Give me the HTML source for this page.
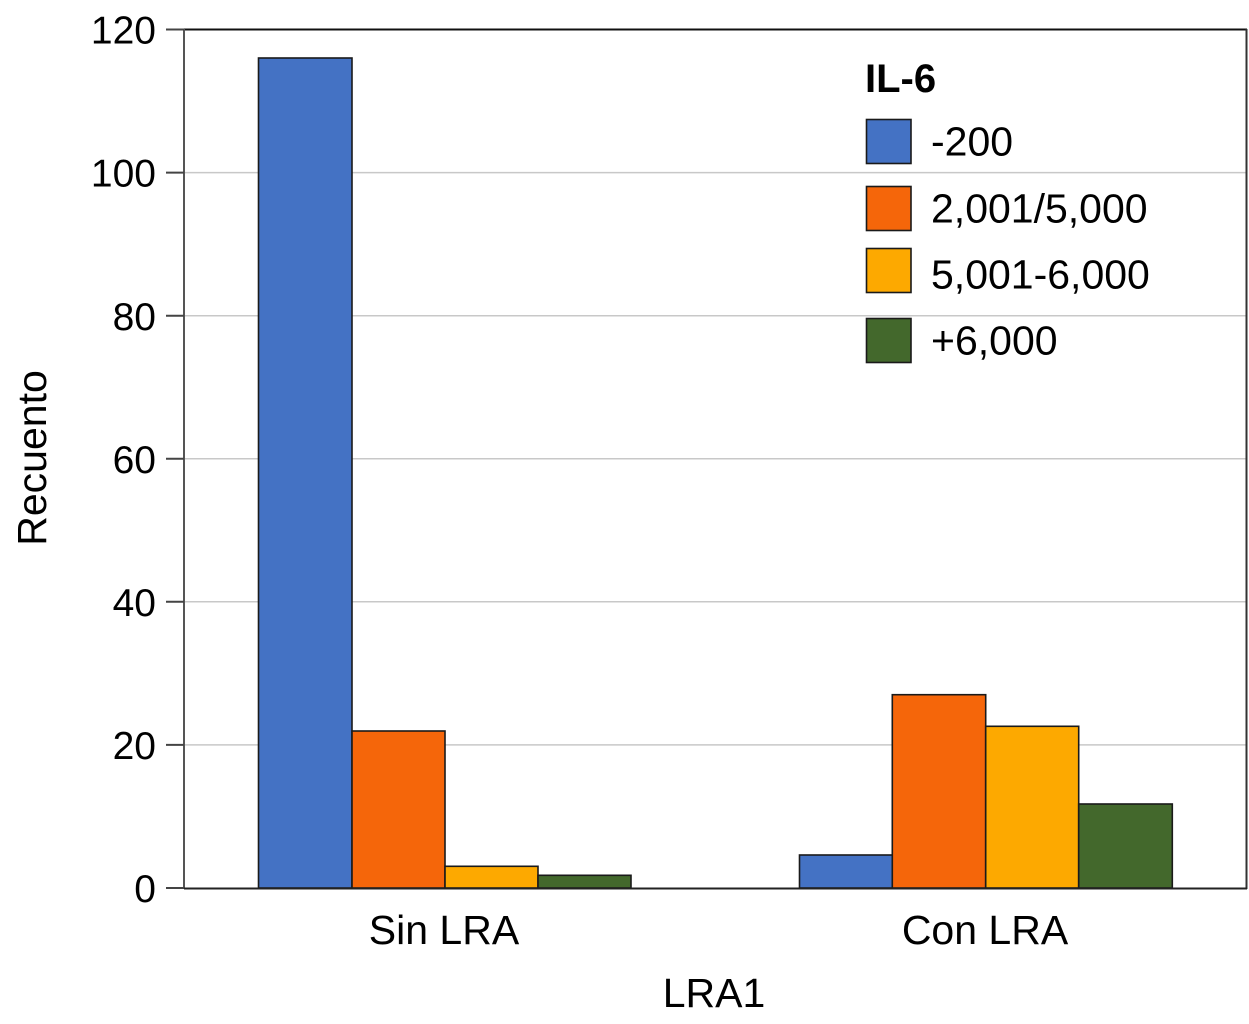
<!DOCTYPE html>
<html><head><meta charset="utf-8"><style>
html,body{margin:0;padding:0;background:#fff;}
svg{display:block;font-family:"Liberation Sans",Arial,sans-serif;}
</style></head><body>
<svg width="1249" height="1024" viewBox="0 0 1249 1024" xmlns="http://www.w3.org/2000/svg">
<rect width="1249" height="1024" fill="#fff"/>
<!-- gridlines -->
<g stroke="#c8c8c8" stroke-width="1.5">
<line x1="184" y1="744.9" x2="1246" y2="744.9"/>
<line x1="184" y1="601.8" x2="1246" y2="601.8"/>
<line x1="184" y1="458.8" x2="1246" y2="458.8"/>
<line x1="184" y1="315.7" x2="1246" y2="315.7"/>
<line x1="184" y1="172.6" x2="1246" y2="172.6"/>
</g>
<!-- frame -->
<line x1="184" y1="29.5" x2="1247" y2="29.5" stroke="#111" stroke-width="2"/>
<line x1="1246.5" y1="29" x2="1246.5" y2="889" stroke="#333" stroke-width="2"/>
<line x1="184" y1="29" x2="184" y2="889" stroke="#555" stroke-width="2"/>
<!-- ticks -->
<g stroke="#444" stroke-width="2">
<line x1="166" y1="888" x2="184" y2="888"/>
<line x1="166" y1="744.9" x2="184" y2="744.9"/>
<line x1="166" y1="601.8" x2="184" y2="601.8"/>
<line x1="166" y1="458.8" x2="184" y2="458.8"/>
<line x1="166" y1="315.7" x2="184" y2="315.7"/>
<line x1="166" y1="172.6" x2="184" y2="172.6"/>
<line x1="166" y1="29.5" x2="184" y2="29.5"/>
</g>
<!-- bars -->
<g stroke="#1a1a1a" stroke-width="1.6">
<rect x="258.5" y="58" width="93.5" height="830" fill="#4472c4"/>
<rect x="352" y="731" width="93" height="157" fill="#f5660a"/>
<rect x="445" y="866.3" width="93" height="21.7" fill="#fda900"/>
<rect x="538" y="875.3" width="93" height="12.7" fill="#43682c"/>
<rect x="799.5" y="855" width="92.8" height="33" fill="#4472c4"/>
<rect x="892.3" y="694.7" width="93.4" height="193.3" fill="#f5660a"/>
<rect x="985.7" y="726.3" width="93" height="161.7" fill="#fda900"/>
<rect x="1078.7" y="804" width="93.6" height="84" fill="#43682c"/>
</g>
<line x1="184" y1="888.5" x2="1247" y2="888.5" stroke="#222" stroke-width="2"/>
<!-- y tick labels -->
<g font-size="39" fill="#000" text-anchor="end">
<text x="156" y="902">0</text>
<text x="156" y="759">20</text>
<text x="156" y="616">40</text>
<text x="156" y="473">60</text>
<text x="156" y="330">80</text>
<text x="156" y="186.5">100</text>
<text x="156" y="43.5">120</text>
</g>
<!-- x labels -->
<g font-size="41" fill="#000" text-anchor="middle">
<text x="444" y="944">Sin LRA</text>
<text x="985" y="944">Con LRA</text>
<text x="714" y="1007">LRA1</text>
<text transform="translate(46,458) rotate(-90)">Recuento</text>
</g>
<!-- legend -->
<text x="865" y="92" font-size="40" font-weight="bold" fill="#000">IL-6</text>
<g stroke="#1a1a1a" stroke-width="1.6">
<rect x="866.5" y="119.5" width="44.5" height="44" fill="#4472c4"/>
<rect x="866.5" y="186.5" width="44.5" height="44" fill="#f5660a"/>
<rect x="866.5" y="248.5" width="44.5" height="44" fill="#fda900"/>
<rect x="866.5" y="318.5" width="44.5" height="44" fill="#43682c"/>
</g>
<g font-size="41" fill="#000">
<text x="931" y="155.5">-200</text>
<text x="931" y="222.5">2,001/5,000</text>
<text x="931" y="288.5">5,001-6,000</text>
<text x="931" y="354.5">+6,000</text>
</g>
</svg>
</body></html>
